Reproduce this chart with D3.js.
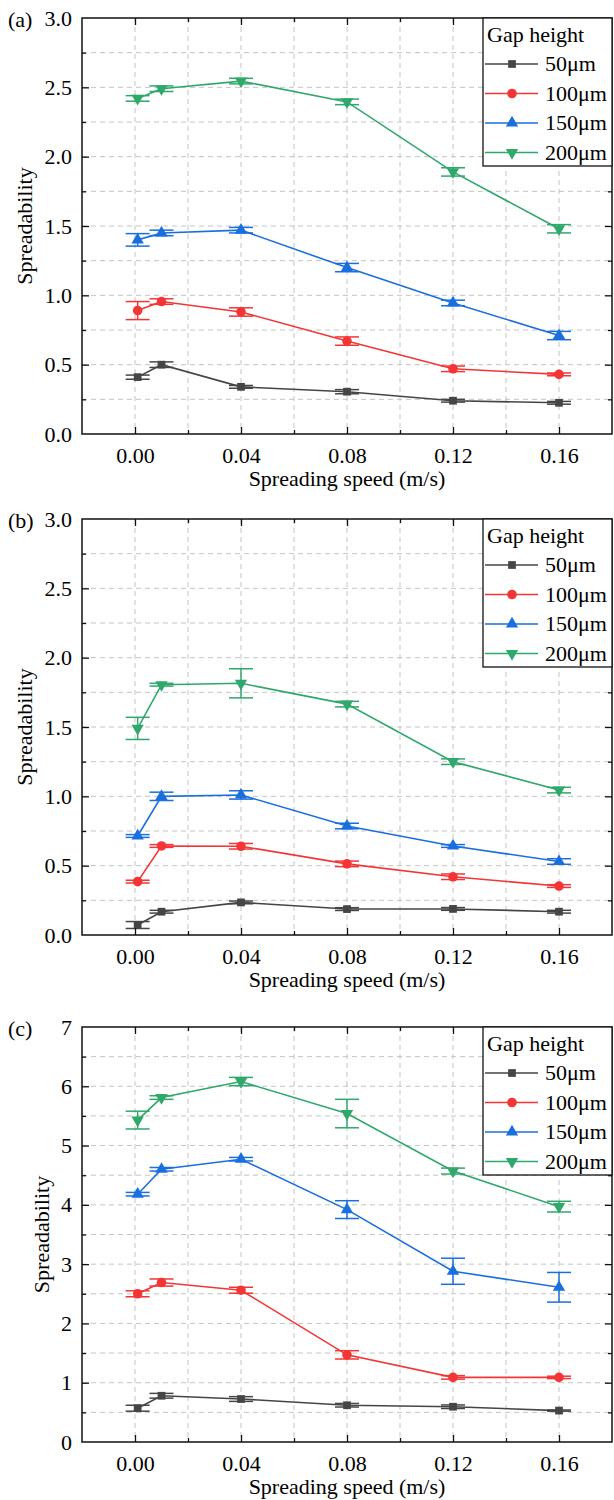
<!DOCTYPE html>
<html lang="en">

<head>
  <meta charset="UTF-8">
  <title>Spreadability vs spreading speed</title>
  <script src="https://d3js.org/d3.v7.min.js"></script>
  <style>
    body {
      margin: 0;
      background: #fff;
    }

    text {
      font-family: "Liberation Serif", "Times New Roman", serif;
      fill: #000;
    }

    .grid line {
      stroke: #c4c4c4;
      stroke-width: 1;
      stroke-dasharray: 5, 4;
    }

    .axis path {
      display: none;
    }

    .axis line {
      stroke: #111;
      stroke-width: 1.3;
    }
  </style>
</head>

<body>

  <script>
    // speeds on x axis (m/s)
    const speeds = [0.001, 0.01, 0.04, 0.08, 0.12, 0.16];
    const gaps = ["50\u03bcm", "100\u03bcm", "150\u03bcm", "200\u03bcm"];
    const colors = ["#454545", "#f43535", "#1a6fdf", "#2fa86b"];
    const xTicks = [0.00, 0.04, 0.08, 0.12, 0.16];

    // panel (a)
    const a50 = [0.41, 0.50, 0.34, 0.305, 0.24, 0.225];
    const a50Err = [0.015, 0.02, 0.01, 0.015, 0.01, 0.01];
    const a100 = [0.89, 0.955, 0.88, 0.67, 0.47, 0.43];
    const a100Err = [0.065, 0.02, 0.03, 0.03, 0.02, 0.01];
    const a150 = [1.40, 1.45, 1.47, 1.20, 0.945, 0.71];
    const a150Err = [0.045, 0.02, 0.02, 0.03, 0.02, 0.03];
    const a200 = [2.42, 2.49, 2.545, 2.395, 1.89, 1.48];
    const a200Err = [0.02, 0.02, 0.02, 0.02, 0.03, 0.03];

    // panel (b)
    const b50 = [0.072, 0.168, 0.235, 0.187, 0.188, 0.168];
    const b50Err = [0.025, 0.01, 0.01, 0.01, 0.01, 0.01];
    const b100 = [0.385, 0.642, 0.64, 0.513, 0.42, 0.353];
    const b100Err = [0.01, 0.01, 0.02, 0.02, 0.02, 0.01];
    const b150 = [0.714, 1.00, 1.01, 0.786, 0.642, 0.53];
    const b150Err = [0.01, 0.03, 0.03, 0.02, 0.01, 0.02];
    const b200 = [1.49, 1.805, 1.815, 1.665, 1.25, 1.045];
    const b200Err = [0.08, 0.01, 0.105, 0.02, 0.02, 0.02];

    // panel (c)
    const c50 = [0.57, 0.78, 0.725, 0.62, 0.595, 0.53];
    const c50Err = [0.05, 0.04, 0.04, 0.03, 0.03, 0.01];
    const c100 = [2.50, 2.69, 2.56, 1.47, 1.09, 1.09];
    const c100Err = [0.05, 0.06, 0.05, 0.07, 0.03, 0.02];
    const c150 = [4.18, 4.60, 4.77, 3.92, 2.88, 2.61];
    const c150Err = [0.03, 0.03, 0.03, 0.15, 0.22, 0.25];
    const c200 = [5.43, 5.81, 6.08, 5.54, 4.57, 3.97];
    const c200Err = [0.15, 0.03, 0.07, 0.24, 0.05, 0.09];

    const yTicksAB = [0, 0.5, 1.0, 1.5, 2.0, 2.5, 3.0];
    const yTicksC = [0, 1, 2, 3, 4, 5, 6, 7];

    const panels = [
      { tag: "(a)", top: 18, bottom: 434, yMax: 3, minor: 0.25, ticks: yTicksAB, fmt: d3.format(".1f"), titleX: 32,
        vals: [a50, a100, a150, a200], errs: [a50Err, a100Err, a150Err, a200Err] },
      { tag: "(b)", top: 519, bottom: 935, yMax: 3, minor: 0.25, ticks: yTicksAB, fmt: d3.format(".1f"), titleX: 32,
        vals: [b50, b100, b150, b200], errs: [b50Err, b100Err, b150Err, b200Err] },
      { tag: "(c)", top: 1027, bottom: 1442, yMax: 7, minor: 0.5, ticks: yTicksC, fmt: d3.format("d"), titleX: 49,
        vals: [c50, c100, c150, c200], errs: [c50Err, c100Err, c150Err, c200Err] }
    ];

    const left = 82, right = 612;
    const symbols = [d3.symbolSquare, d3.symbolCircle, d3.symbolTriangle, d3.symbolTriangle];
    const symSize = [60, 72, 66, 66];
    const symRot = [0, 0, 0, 180];

    const svg = d3.select("body").append("svg")
      .attr("width", 614)
      .attr("height", 1500);

    const x = d3.scaleLinear().domain([-0.02, 0.18]).range([left, right]);
    const xMinor = d3.range(0, 0.161, 0.02);

    function marker(g, i, cx, cy) {
      g.append("path")
        .attr("d", d3.symbol().type(symbols[i]).size(symSize[i])())
        .attr("transform", `translate(${cx},${cy}) rotate(${symRot[i]})`)
        .attr("fill", colors[i]);
    }

    panels.forEach(p => {
      const y = d3.scaleLinear().domain([0, p.yMax]).range([p.bottom, p.top]);
      const yMinor = d3.range(p.minor, p.yMax - 0.001, p.minor);
      const g = svg.append("g");

      // dashed grid
      const grid = g.append("g").attr("class", "grid");
      grid.selectAll(".gx").data(xMinor).enter().append("line")
        .attr("x1", d => x(d)).attr("x2", d => x(d))
        .attr("y1", p.top).attr("y2", p.bottom);
      grid.selectAll(".gy").data(yMinor).enter().append("line")
        .attr("x1", left).attr("x2", right)
        .attr("y1", d => y(d)).attr("y2", d => y(d));

      // series
      p.vals.forEach((vals, i) => {
        const pts = speeds.map((s, k) => ({ s: s, v: vals[k], e: p.errs[i][k] }));
        const sg = g.append("g");
        sg.append("path")
          .datum(pts)
          .attr("fill", "none")
          .attr("stroke", colors[i])
          .attr("stroke-width", 1.6)
          .attr("d", d3.line().x(d => x(d.s)).y(d => y(d.v)));

        const eb = sg.selectAll(".eb").data(pts).enter().append("g")
          .attr("stroke", colors[i]).attr("stroke-width", 1.5);
        eb.append("line")
          .attr("x1", d => x(d.s)).attr("x2", d => x(d.s))
          .attr("y1", d => y(d.v - d.e)).attr("y2", d => y(d.v + d.e));
        eb.append("line")
          .attr("x1", d => x(d.s) - 12).attr("x2", d => x(d.s) + 12)
          .attr("y1", d => y(d.v - d.e)).attr("y2", d => y(d.v - d.e));
        eb.append("line")
          .attr("x1", d => x(d.s) - 12).attr("x2", d => x(d.s) + 12)
          .attr("y1", d => y(d.v + d.e)).attr("y2", d => y(d.v + d.e));

        pts.forEach(d => marker(sg, i, x(d.s), y(d.v)));
      });

      // axes, ticks pointing inward
      g.append("g").attr("class", "axis")
        .attr("transform", `translate(0,${p.bottom})`)
        .call(d3.axisBottom(x).tickValues(xTicks).tickSize(-7).tickPadding(13).tickFormat(d3.format(".2f")))
        .call(a => a.selectAll("text").style("font-size", "22px"));
      g.append("g").attr("class", "axis")
        .attr("transform", `translate(0,${p.bottom})`)
        .call(d3.axisBottom(x).tickValues([0.02, 0.06, 0.10, 0.14]).tickSize(-4).tickFormat(""));
      g.append("g").attr("class", "axis")
        .attr("transform", `translate(0,${p.top})`)
        .call(d3.axisTop(x).tickValues(xTicks).tickSize(-7).tickFormat(""));
      g.append("g").attr("class", "axis")
        .attr("transform", `translate(0,${p.top})`)
        .call(d3.axisTop(x).tickValues([0.02, 0.06, 0.10, 0.14]).tickSize(-4).tickFormat(""));

      const yMaj = p.ticks.filter(t => t > 0 && t < p.yMax);
      const yMin = yMinor.filter(t => !p.ticks.some(m => Math.abs(m - t) < 1e-6));
      g.append("g").attr("class", "axis")
        .attr("transform", `translate(${left},0)`)
        .call(d3.axisLeft(y).tickValues(p.ticks).tickSize(0).tickPadding(10).tickFormat(p.fmt))
        .call(a => a.selectAll("text").style("font-size", "22px"));
      g.append("g").attr("class", "axis")
        .attr("transform", `translate(${left},0)`)
        .call(d3.axisLeft(y).tickValues(yMaj).tickSize(-7).tickFormat(""));
      g.append("g").attr("class", "axis")
        .attr("transform", `translate(${left},0)`)
        .call(d3.axisLeft(y).tickValues(yMin).tickSize(-4).tickFormat(""));
      g.append("g").attr("class", "axis")
        .attr("transform", `translate(${right},0)`)
        .call(d3.axisRight(y).tickValues(yMaj).tickSize(-7).tickFormat(""));
      g.append("g").attr("class", "axis")
        .attr("transform", `translate(${right},0)`)
        .call(d3.axisRight(y).tickValues(yMin).tickSize(-4).tickFormat(""));

      // frame
      g.append("rect")
        .attr("x", left).attr("y", p.top)
        .attr("width", right - left).attr("height", p.bottom - p.top)
        .attr("fill", "none").attr("stroke", "#111").attr("stroke-width", 1.5);

      // titles
      g.append("text")
        .attr("x", (left + right) / 2).attr("y", p.bottom + 52)
        .attr("text-anchor", "middle")
        .style("font-size", "22px")
        .text("Spreading speed (m/s)");
      g.append("text")
        .attr("transform", `translate(${p.titleX},${(p.top + p.bottom) / 2}) rotate(-90)`)
        .attr("text-anchor", "middle")
        .style("font-size", "22px")
        .text("Spreadability");
      g.append("text")
        .attr("x", 8).attr("y", p.top + 9)
        .style("font-size", "22px")
        .text(p.tag);

      // legend
      const lx = 483, ly = p.top;
      const lg = g.append("g");
      lg.append("rect")
        .attr("x", lx).attr("y", ly)
        .attr("width", right - lx).attr("height", 148)
        .attr("fill", "#fff").attr("stroke", "#111").attr("stroke-width", 1.3);
      lg.append("text")
        .attr("x", lx + 4).attr("y", ly + 24)
        .style("font-size", "22px")
        .text("Gap height");
      gaps.forEach((name, i) => {
        const cy = ly + 46 + i * 29.5;
        lg.append("line")
          .attr("x1", lx + 2).attr("x2", lx + 55)
          .attr("y1", cy).attr("y2", cy)
          .attr("stroke", colors[i]).attr("stroke-width", 1.6);
        marker(lg, i, lx + 29, cy);
        lg.append("text")
          .attr("x", lx + 62).attr("y", cy + 7)
          .style("font-size", "22px")
          .text(name);
      });
    });
  </script>

</body>

</html>
